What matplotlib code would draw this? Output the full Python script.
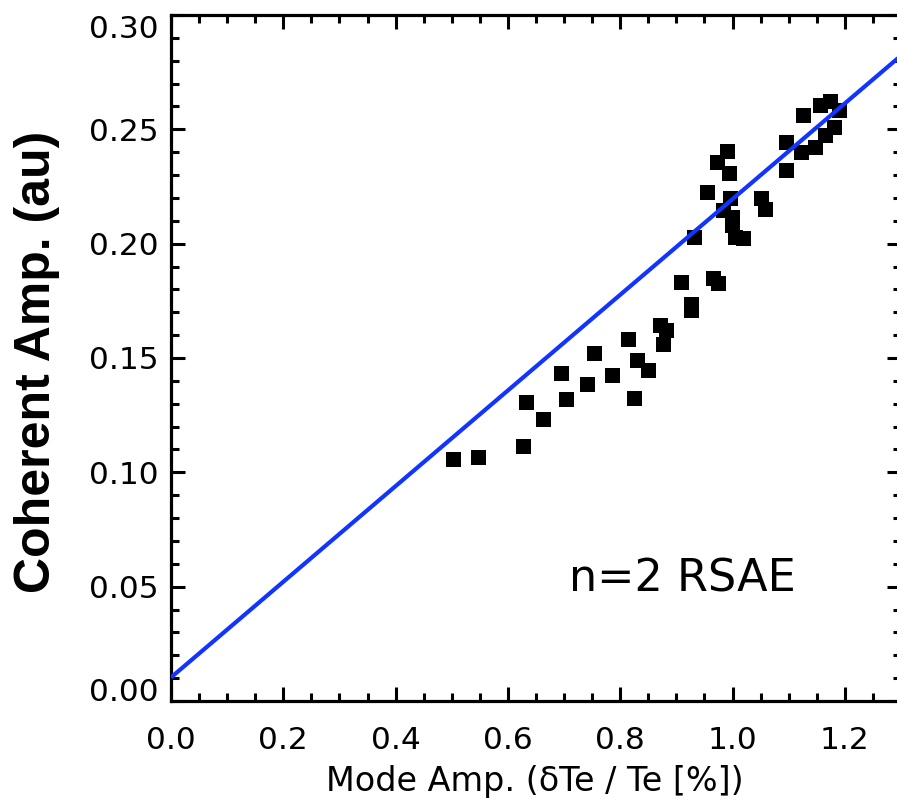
import matplotlib
matplotlib.use("Agg")
import matplotlib.pyplot as plt
from matplotlib.ticker import MultipleLocator
import numpy as np

# Mode amplitude (dTe/Te, %) and coherent amplitude (au) for the n=2 RSAE
mode_amp = [0.503, 0.546, 0.627, 0.633, 0.663, 0.694, 0.703, 0.741, 0.754,
            0.786, 0.814, 0.825, 0.829, 0.850, 0.870, 0.881, 0.877, 0.909,
            0.926, 0.926, 0.966, 0.974,
            0.932, 0.954, 0.973, 0.991, 0.994, 0.996, 0.983, 0.999, 0.999,
            1.004, 1.018, 1.050, 1.057,
            1.096, 1.096, 1.122, 1.125, 1.146, 1.155, 1.164, 1.173, 1.181,
            1.190]
coherent_amp = [0.1058, 0.1066, 0.1117, 0.1309, 0.1235, 0.1434, 0.1319,
                0.1385, 0.1522, 0.1425, 0.1585, 0.1327, 0.1491, 0.1448,
                0.1643, 0.1621, 0.1562, 0.1831, 0.1735, 0.1712, 0.1849,
                0.1826,
                0.2030, 0.2227, 0.2358, 0.2405, 0.2308, 0.2198, 0.2147,
                0.2118, 0.2081, 0.2030, 0.2023, 0.2198, 0.2150,
                0.2446, 0.2322, 0.2402, 0.2563, 0.2424, 0.2606, 0.2475,
                0.2625, 0.2511, 0.2584]

# Linear fit: coherent = fit_intercept + fit_slope * mode
fit_intercept = 0.0103
fit_slope = 0.2092

x_limits = (0.0, 1.3)
y_limits = (0.0, 0.30)
x_ticks = [0.0, 0.2, 0.4, 0.6, 0.8, 1.0, 1.2]
y_ticks = [0.00, 0.05, 0.10, 0.15, 0.20, 0.25, 0.30]

plt.rcParams['font.family'] = ['DejaVu Sans']

fig = plt.figure(figsize=(8.97, 7.99), dpi=100)
ax = fig.add_axes([171 / 897, 98 / 799, 730 / 897, 686 / 799])

fit_x = np.array(x_limits)
ax.plot(fit_x, fit_intercept + fit_slope * fit_x, color='#1234ff',
        lw=3.0, solid_capstyle='butt', zorder=3)
ax.plot(mode_amp, coherent_amp, linestyle='none', marker='s',
        markersize=10.8, markeredgewidth=0, color='black', zorder=2)

ax.set_xlim(*x_limits)
ax.set_ylim(*y_limits)
ax.set_xticks(x_ticks)
ax.set_yticks(y_ticks)
ax.set_xticklabels([f"{v:.1f}" for v in x_ticks])
ax.set_yticklabels([f"{v:.2f}" for v in y_ticks])
ax.xaxis.set_minor_locator(MultipleLocator(0.05))
ax.yaxis.set_minor_locator(MultipleLocator(0.01))

for s in ax.spines.values():
    s.set_linewidth(2.3)
ax.tick_params(which='both', direction='in', top=True, right=True,
               width=2.2, labelsize=22.5)
ax.tick_params(which='major', length=10)
ax.tick_params(which='minor', length=6)
ax.tick_params(axis='y', pad=9)
ax.tick_params(axis='x', pad=18)

# keep the end labels of the y axis inside the frame
ylabels = ax.get_yticklabels()
ylabels[0].set_verticalalignment('baseline')
ylabels[-1].set_verticalalignment('top')

fig.text(37 / 897, 1 - 362 / 799, "Coherent Amp. (au)", rotation=90,
         ha='center', va='center', fontsize=36, fontweight='bold',
         family=['Liberation Sans', 'DejaVu Sans'])
fig.text(535 / 897, 8 / 799, "Mode Amp. (δTe / Te [%])", ha='center',
         va='baseline', fontsize=24)

ax.text(0.70, 0.159, "n=2 RSAE", transform=ax.transAxes, ha='center',
        va='baseline', fontsize=32)

fig.savefig("out.png", dpi=100)
